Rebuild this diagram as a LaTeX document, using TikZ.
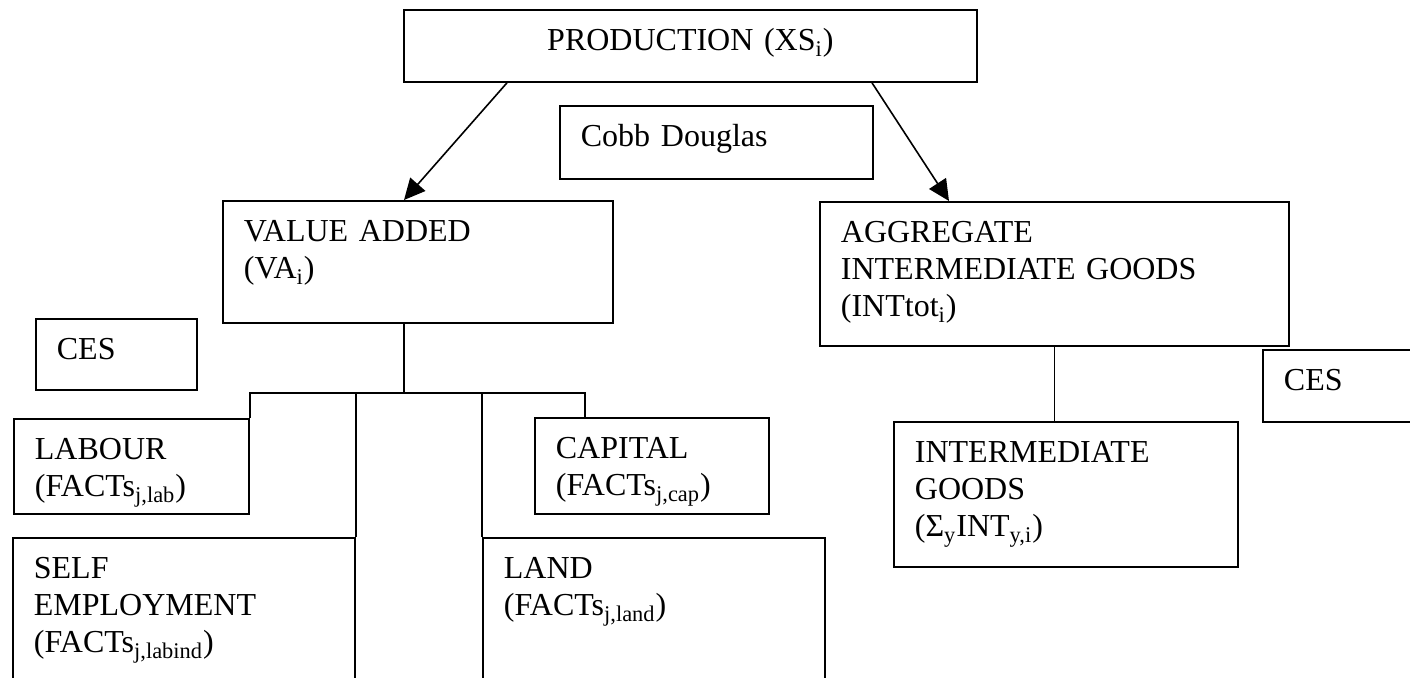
\documentclass[tikz,border=0pt]{standalone}
\usepackage{fontspec}
\setmainfont{Liberation Serif}
\usetikzlibrary{arrows.meta,calc}
\tikzstyle{blk}=[rectangle,draw=black,line width=0.9pt,anchor=north west,
  align=left,inner xsep=10.5pt,inner ysep=0pt,text height=20.5pt,
  font=\fontsize{16pt}{18.5pt}\selectfont]
\tikzstyle{ctr}=[blk,align=center]
\tikzstyle{flow}=[line width=0.8pt,-{Triangle[length=10.5pt,width=10pt]}]
\tikzstyle{link}=[line width=0.9pt]

\begin{document}
\begin{tikzpicture}[x=0.5pt, y=-0.5pt]
	\useasboundingbox (0, 0) rectangle (1410, 677);
	\node [style=ctr, text width=265.5pt, text depth=15.5pt] (0) at (403, 9) {PRODUCTION (XS\textsubscript{i})};
	\node [style=blk, text width=135.5pt, text depth=16pt] (1) at (559, 105) {Cobb Douglas};
	\node [style=blk, text width=174pt, text depth=40.5pt] (2) at (222, 200) {VALUE ADDED\\(VA\textsubscript{i})};
	\node [style=blk, text width=213.5pt, text depth=51.5pt] (3) at (819, 201) {AGGREGATE\\INTERMEDIATE GOODS\\(INTtot\textsubscript{i})};
	\node [style=blk, text width=59.5pt, text depth=15pt] (4) at (35, 318) {CES};
	\node [style=blk, text width=79pt, text depth=15.5pt] (5) at (1262, 349) {CES};
	\node [style=blk, text width=96.5pt, text depth=27pt] (6) at (13, 418) {LABOUR\\(FACTs\textsubscript{j,lab})};
	\node [style=blk, text width=96pt, text depth=27.5pt] (7) at (534, 417) {CAPITAL\\(FACTs\textsubscript{j,cap})};
	\node [style=blk, text width=150pt, text depth=79.5pt] (8) at (12, 537) {SELF\\EMPLOYMENT\\(FACTs\textsubscript{j,labind})};
	\node [style=blk, text width=150pt, text depth=79.5pt] (9) at (482, 537) {LAND\\(FACTs\textsubscript{j,land})};
	\node [style=blk, text width=151pt, text depth=52pt] (10) at (893, 421) {INTERMEDIATE\\GOODS\\(Σ\textsubscript{y}INT\textsubscript{y,i})};
	\coordinate (11) at (404, 393);
	\coordinate (12) at (585, 393);
	\draw [style=flow] ($(0.south west)+(104,0)$) to ($(2.north west)+(182,0)$);
	\draw [style=flow] ($(0.south west)+(469,0)$) to ($(3.north west)+(130,0)$);
	\draw [style=link] (2.south west -| 11) to (11);
	\draw [style=link] (6.north east) |- (12) to (12 |- 7.north);
	\draw [style=link] (8.north east) to (8.north east |- 11);
	\draw [style=link] (9.north west) to (9.north west |- 11);
	\draw [style=link] (3.south) to (3.south |- 10.north);
\end{tikzpicture}
\end{document}
